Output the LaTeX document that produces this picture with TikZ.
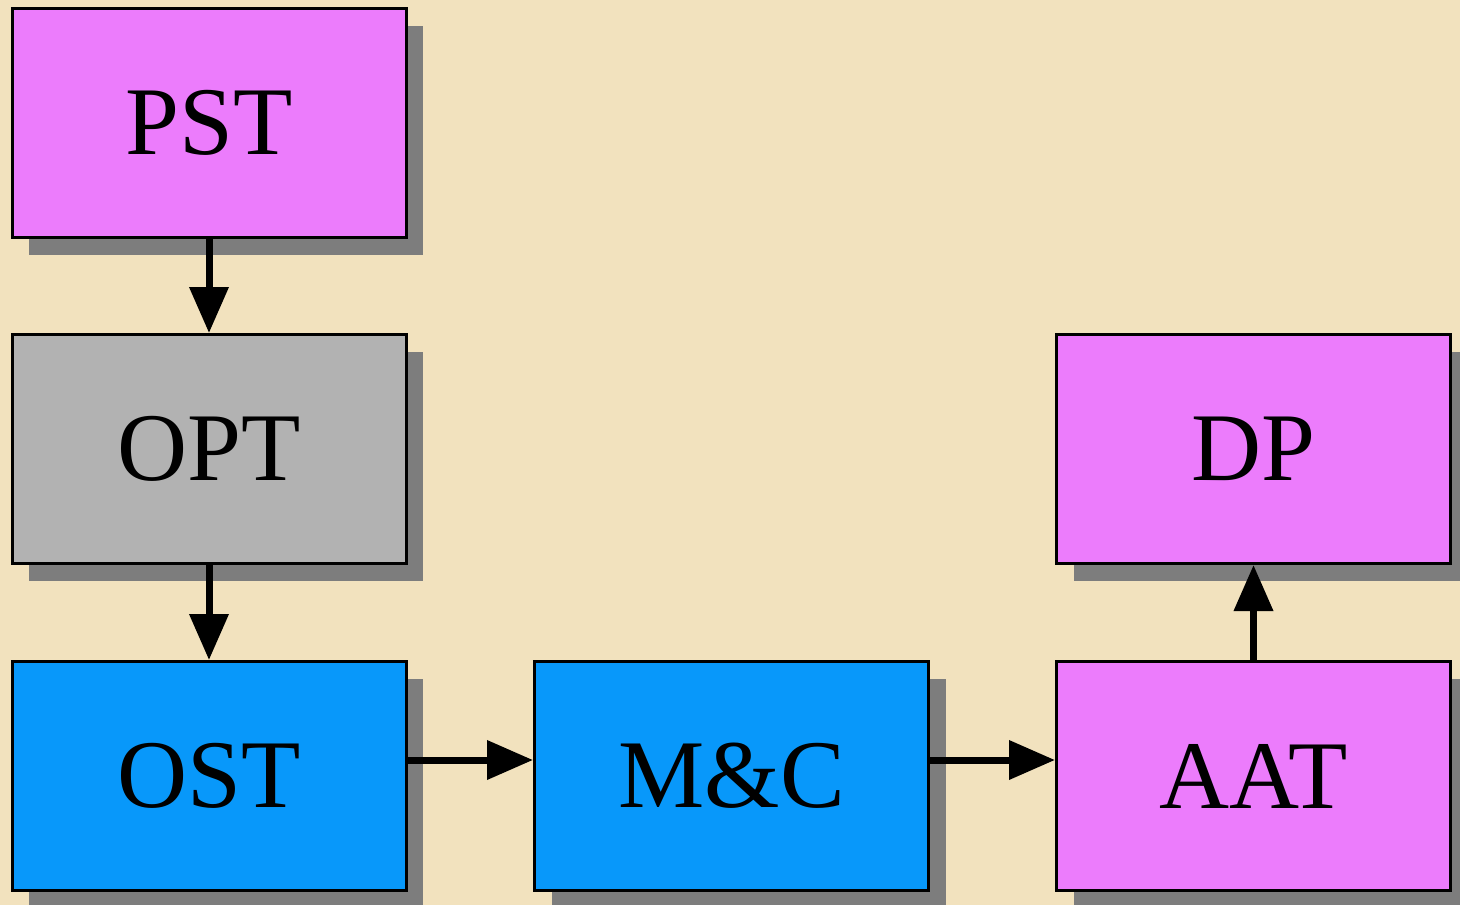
\documentclass[tikz,border=0pt]{standalone}
\usepackage{fontspec}
\setmainfont{Liberation Serif}
\usetikzlibrary{arrows.meta,shadows}
\definecolor{bgbeige}{RGB}{242,226,190}
\definecolor{boxmag}{RGB}{236,124,252}
\definecolor{boxgray}{RGB}{178,178,178}
\definecolor{boxblue}{RGB}{8,152,250}
\definecolor{shadowgray}{RGB}{125,125,125}
\tikzset{
  blockbox/.style={draw=black, line width=3pt, minimum width=394pt, minimum height=229pt,
    inner sep=0pt, font=\fontsize{97}{100}\selectfont,
    drop shadow={shadow xshift=17pt, shadow yshift=-17pt, fill=shadowgray, opacity=1}},
  magbox/.style={blockbox, fill=boxmag},
  graybox/.style={blockbox, fill=boxgray},
  bluebox/.style={blockbox, fill=boxblue},
  flow/.style={line width=7pt, -{Triangle[length=46pt, width=38pt]}},
}
\begin{document}
\begin{tikzpicture}[x=1pt,y=-1pt]
\fill[bgbeige] (0,0) rectangle (1460,905);
\useasboundingbox (0,0) rectangle (1460,905);
\node[magbox] (pst) at (209,123) {PST};
\node[graybox] (opt) at (209,449) {OPT};
\node[bluebox] (ost) at (209,776) {OST};
\node[bluebox] (mc) at (731.5,776) {M\&C};
\node[magbox] (aat) at (1253.5,776) {AAT};
\node[magbox] (dp) at (1253.5,449) {DP};
\draw[flow] (pst.south) -- (opt.north);
\draw[flow] (opt.south) -- (ost.north);
\draw[flow] (ost.east |- 0,760) -- (mc.west |- 0,760);
\draw[flow] (mc.east |- 0,760) -- (aat.west |- 0,760);
\draw[flow] (aat.north) -- (dp.south);
\end{tikzpicture}
\end{document}
